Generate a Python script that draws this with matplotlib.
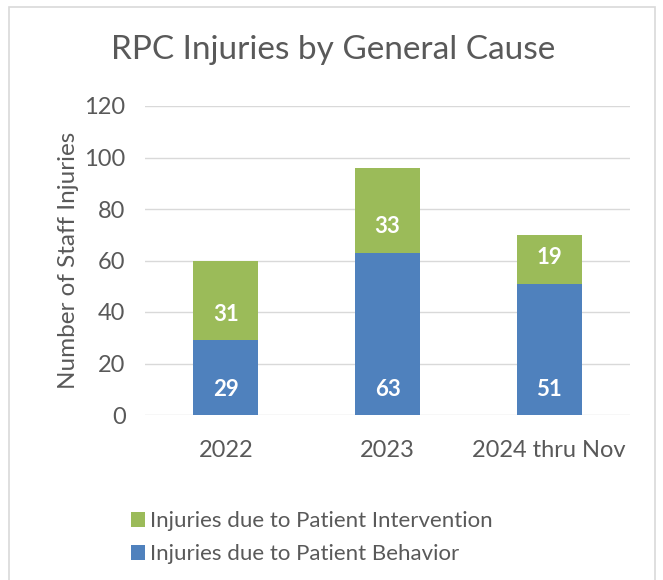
import matplotlib.pyplot as plt
from matplotlib.patches import Rectangle

plt.rcParams['font.family'] = ['Lato', 'DejaVu Sans']

years = ['2022', '2023', '2024 thru Nov']
behavior = [29, 63, 51]
intervention = [31, 33, 19]

blue = '#4F81BD'
green = '#9BBB59'
text_col = '#595959'

fig = plt.figure(figsize=(6.63, 5.8), dpi=100)
fig.patches.append(Rectangle((9 / 663, -0.05), 646 / 663, 1.05 - 7 / 580, transform=fig.transFigure,
                             fill=False, edgecolor='#D9D9D9', linewidth=1.2))
ax = fig.add_axes([145 / 663, 1 - 415 / 580, 485 / 663, 309 / 580])

x = range(len(years))
b1 = ax.bar(x, behavior, width=0.4, color=blue, zorder=3)
b2 = ax.bar(x, intervention, width=0.4, bottom=behavior, color=green, zorder=3)

for i in x:
    ax.annotate(str(behavior[i]), (i, 0), xytext=(0, 26), textcoords='offset pixels',
                ha='center', va='center', color='white', fontsize=16, fontweight='bold')
    ax.annotate(str(intervention[i]), (i, behavior[i]), xytext=(0, 26), textcoords='offset pixels',
                ha='center', va='center', color='white', fontsize=16, fontweight='bold')

ax.set_xlim(-0.5, 2.5)
ax.set_ylim(0, 120)
ax.set_yticks(range(0, 121, 20))
ax.set_xticks(list(x))
ax.set_xticklabels(years)
ax.grid(axis='y', color='#D9D9D9', linewidth=1, zorder=0)
for s in ax.spines.values():
    s.set_visible(False)
ax.tick_params(length=0, labelsize=17, labelcolor=text_col)
ax.tick_params(axis='x', pad=18)
ax.tick_params(axis='y', pad=14)
ax.set_ylabel('Number of Staff Injuries', fontsize=17.5, color=text_col, labelpad=4)

fig.text(333 / 663, 1 - 50 / 580, 'RPC Injuries by General Cause', ha='center', va='center',
         fontsize=24, color=text_col)

fig.legend([b2, b1], ['Injuries due to Patient Intervention', 'Injuries due to Patient Behavior'],
           loc='upper left', bbox_to_anchor=(111 / 663, 1 - 491 / 580), frameon=False,
           fontsize=16, labelcolor=text_col, handlelength=0.65, handleheight=0.65,
           handletextpad=0.2, labelspacing=0.6)

plt.savefig('out.png', dpi=100)
